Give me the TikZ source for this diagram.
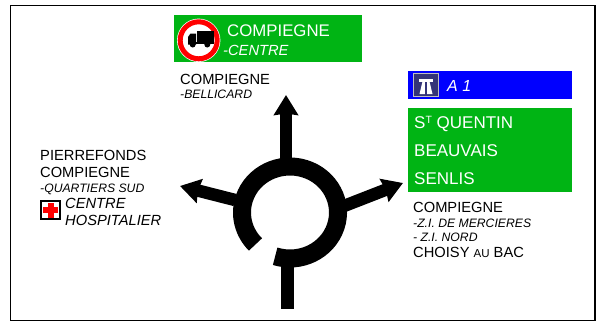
\documentclass[tikz,border=0pt]{standalone}
\usepackage{fontspec}
\setmainfont{Liberation Sans}
\usetikzlibrary{arrows.meta}
\definecolor{signgreen}{RGB}{0,180,20}
\definecolor{signblue}{RGB}{0,0,255}
\definecolor{signnavy}{RGB}{52,52,120}
\newcommand{\fsize}[1]{\fontsize{#1}{#1}\selectfont}
\tikzset{
  every picture/.style={x=1pt,y=-1pt},
  every node/.style={inner sep=0pt,anchor=base west},
  place/.style={text=black,font=\fsize{14.7}},
  sub/.style={text=black,font=\fsize{12.2}\itshape},
  hosp/.style={text=black,font=\fsize{14.7}\itshape},
  signtext/.style={text=white,font=\fsize{17}},
  signsub/.style={text=white,font=\fsize{14.7}\itshape},
  road/.style={line width=12.5pt},
  exit/.style={road,-{Stealth[length=20pt,width=24pt,inset=1.5pt]}}
}
\begin{document}
\begin{tikzpicture}
    \useasboundingbox (0,0) rectangle (603,322);
    \draw[line width=1.5pt] (10.5,5.5) rectangle (595,320.5);
    % panels
    \fill[signgreen] (174,15) rectangle (362,62);
    \fill[signblue] (408,71) rectangle (572,99);
    \fill[signgreen] (408,108) rectangle (572,192);
    % no lorries
    \fill[white] (198.7,40.3) circle (21.7);
    \draw[red,line width=5pt] (198.7,40.3) circle (18.5);
    \fill (197,31) rectangle (213.5,42.5);
    \fill (188,42.5) -- (188,37) -- (190.5,33.5) -- (196,33.5) -- (196,44.5) -- (188,44.5) -- cycle;
    \fill (188,42) rectangle (213.5,44);
    \fill (192.7,44.5) circle (3);
    \fill (207.3,44.5) circle (3);
    % motorway
    \draw[fill=signnavy,draw=black!25,line width=1.2pt] (413.5,73.5) rectangle (438.5,96.5);
    \fill[white] (419,79) rectangle (433,81.5);
    \fill[white] (422.5,81.5) -- (425,81.5) -- (424.8,94) -- (419.5,94) -- cycle;
    \fill[white] (427,81.5) -- (429.5,81.5) -- (432.5,94) -- (427.2,94) -- cycle;
    % hospital
    \draw[fill=white,line width=1.4pt] (41,201) rectangle (60,219);
    \fill[red] (47.5,203) rectangle (53.5,217.5);
    \fill[red] (43,207) rectangle (58,213);
    % roundabout
    \coordinate (ringc) at (290,212.5);
    \coordinate (north0) at (286,160);
    \coordinate (northtip) at (286,95);
    \coordinate (east0) at (344,206);
    \coordinate (easttip) at (403,183);
    \coordinate (west0) at (235,200);
    \coordinate (westtip) at (180,186);
    \coordinate (south0) at (287.5,260);
    \coordinate (south1) at (287.5,309);
    \draw[line width=18pt] (ringc) ++(-252:48 and 46) arc[start angle=-252,end angle=-584,x radius=48,y radius=46];
    \draw[exit] (north0) -- (northtip);
    \draw[exit] (east0) -- (easttip);
    \draw[exit] (west0) -- (westtip);
    \draw[road] (south0) -- (south1);
    % labels
    \node[signtext,font=\fsize{16.8}] (topname) at (227,36) {COMPIEGNE};
    \node[signsub] (topsub) at (223,55) {-CENTRE};
    \node[place] (north) at (180,84) {COMPIEGNE};
    \node[sub] (northsub) at (180,98.7) {-BELLICARD};
    \node[signsub,font=\fsize{16}\itshape] (aone) at (447,91) {A 1};
    \node[signtext] (quentin) at (414,128) {S\raisebox{5pt}{\fsize{10.5}T} QUENTIN};
    \node[signtext] (beauvais) at (414,156) {BEAUVAIS};
    \node[signtext] (senlis) at (414,184) {SENLIS};
    \node[place] (east) at (413,212) {COMPIEGNE};
    \node[sub] (eastsuba) at (413,227) {-Z.I. DE MERCIERES};
    \node[sub] (eastsubb) at (413,241) {- Z.I. NORD};
    \node[place] (choisy) at (413,257) {CHOISY {\fsize{11.5}AU} BAC};
    \node[place] (pierre) at (40,160) {PIERREFONDS};
    \node[place] (west) at (40,177) {COMPIEGNE};
    \node[sub] (westsub) at (40,192) {-QUARTIERS SUD};
    \node[hosp] (centre) at (65,208) {CENTRE};
    \node[hosp] (hospital) at (65,225) {HOSPITALIER};
\end{tikzpicture}
\end{document}
